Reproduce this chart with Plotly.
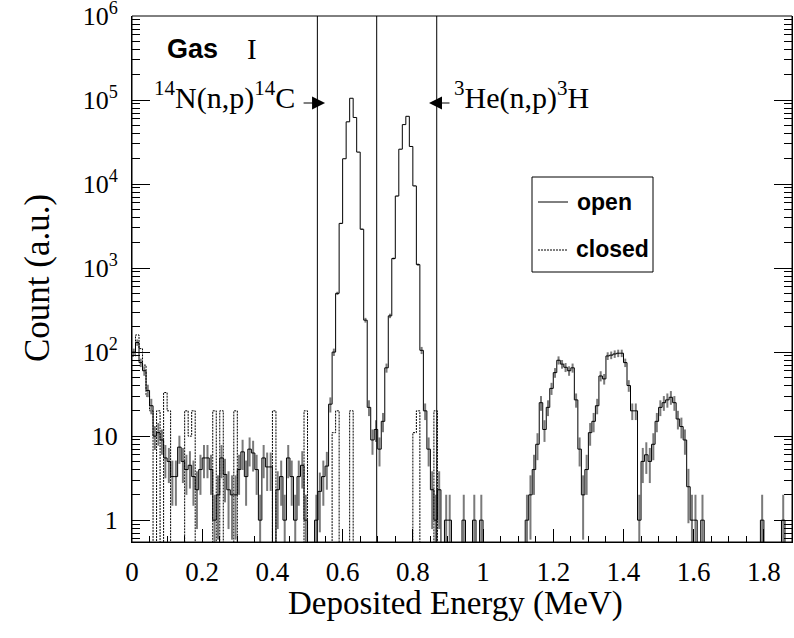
import math
import plotly.graph_objects as go

# ---------------- data ----------------
bin_width = 0.01
n_bins = 188
bin_edges = [round(i * bin_width, 2) for i in range(n_bins + 1)]

open_counts = [
    100, 130, 75, 60, 35, 23, 10, 11, 9, 5.5,
    5, 3.3, 3.3, 7.4, 5, 4, 4.5, 3.3, 2.3, 4,
    5.5, 5.5, 4, 1, 2, 5.5, 3.5, 2.3, 2, 2,
    4, 6.5, 3.3, 7, 6.3, 4, 1, 5.5, 4.3, 4.3,
    0, 2.3, 3.3, 1, 5.5, 3.3, 1, 3.3, 4.5, 1,
    0, 0, 1, 2.2, 3.3, 4.4, 24, 100, 500, 3400,
    20000, 55000, 105000, 62000, 24000, 2900, 240, 22, 9, 12,
    7, 15, 65, 270, 1300, 7200, 26000, 51000, 64000, 28000,
    9500, 1100, 105, 20, 7, 2.3, 1, 2.3, 0, 1,
    1, 0, 0, 0, 1, 0, 0, 1, 0, 1,
    0, 0, 0, 0, 0, 0, 0, 0, 0, 0,
    0, 0, 1, 2, 4, 8, 25, 12, 22, 37,
    57, 80, 72, 66, 60, 65, 27, 7, 2, 4,
    11, 15, 23, 52, 48, 90, 92, 95, 97, 97,
    75, 40, 20, 20, 1, 5, 6, 5, 8, 15,
    22, 25, 27, 29, 25, 16, 13, 9, 2.5, 1,
    1, 0, 1, 0, 0, 0, 0, 0, 0, 0,
    0, 0, 0, 0, 0, 0, 0, 0, 0, 1,
    0, 0, 0, 0, 0, 1, 0, 0,
]

closed_counts = [
    90, 160, 110, 70, 30, 20, 0, 20, 0, 33,
    20, 0, 0, 0, 0, 20, 10, 20, 0, 0,
    0, 0, 0, 20, 0, 20, 0, 0, 0, 20,
    0, 0, 0, 0, 0, 0, 0, 0, 0, 0,
    20, 0, 0, 0, 0, 0, 0, 0, 0, 20,
    0, 0, 0, 0, 0, 0, 0, 11, 20, 0,
    0, 0, 20, 0, 0, 0, 0, 0, 0, 0,
    0, 0, 0, 0, 0, 0, 0, 0, 0, 0,
    11, 20, 0, 0, 0, 0, 20, 0, 0, 0,
] + [0] * 98

x_tick_vals = [0, 0.2, 0.4, 0.6, 0.8, 1.0, 1.2, 1.4, 1.6, 1.8]
x_tick_text = ["0", "0.2", "0.4", "0.6", "0.8", "1", "1.2", "1.4", "1.6", "1.8"]
y_tick_vals = [1, 10, 100, 1e3, 1e4, 1e5, 1e6]
y_tick_text = ["1", "10", "10<sup>2</sup>", "10<sup>3</sup>", "10<sup>4</sup>",
               "10<sup>5</sup>", "10<sup>6</sup>"]
window_edges = [0.528, 0.697, 0.868]

FLOOR = 1e-3  # empty bins drop below the axis


def steps(vals):
    ys = [v if v > 0 else FLOOR for v in vals]
    return bin_edges, ys + [ys[-1]]


fig = go.Figure()

# closed (dotted)
cx, cy = steps(closed_counts)
fig.add_trace(go.Scatter(x=cx, y=cy, mode="lines", line_shape="hv",
                         line=dict(color="black", width=1, dash="2px,1px"),
                         hoverinfo="skip"))

# open: grey error bars
centers = [bin_edges[i] + bin_width / 2 for i, v in enumerate(open_counts) if v > 0]
vals = [v for v in open_counts if v > 0]
errs = [math.sqrt(v) for v in vals]
errs_minus = [min(e, v * 0.9999) for e, v in zip(errs, vals)]
fig.add_trace(go.Scatter(x=centers, y=vals, mode="markers",
                         marker=dict(size=0.1, color="rgba(0,0,0,0)"),
                         error_y=dict(type="data", array=errs, arrayminus=errs_minus,
                                      color="#7a7a7a", thickness=2, width=0),
                         hoverinfo="skip"))

# open: black step line
ox, oy = steps(open_counts)
fig.add_trace(go.Scatter(x=ox, y=oy, mode="lines", line_shape="hv",
                         line=dict(color="black", width=1), hoverinfo="skip"))

# window lines
for xe in window_edges:
    fig.add_shape(type="line", xref="x", yref="paper", x0=xe, x1=xe, y0=0, y1=1,
                  line=dict(color="black", width=1))

# plot area target: x 132..792, y 16..542 (page px); page body margin removed
L, R, T, B = 132, 792, 16, 542


def px_x(px):
    return (px - L) / float(R - L)


def px_y(py):
    return (B - py) / float(B - T)


serif = "Liberation Serif, Times New Roman, serif"
sans = "Liberation Sans, Arial, sans-serif"

annotations = [
    dict(text="<b>Gas</b>", x=px_x(165), y=px_y(49), xref="paper", yref="paper",
         xanchor="left", yanchor="middle", showarrow=False,
         font=dict(family=sans, size=27, color="black")),
    dict(text="I", x=px_x(245), y=px_y(49), xref="paper", yref="paper",
         xanchor="left", yanchor="middle", showarrow=False,
         font=dict(family=serif, size=29, color="black")),
    dict(text="<sup>14</sup>N(n,p)<sup>14</sup>C", x=px_x(297), y=px_y(95),
         xref="paper", yref="paper", xanchor="right", yanchor="middle", showarrow=False,
         font=dict(family=serif, size=30, color="black")),
    dict(text="<sup>3</sup>He(n,p)<sup>3</sup>H", x=px_x(452), y=px_y(95),
         xref="paper", yref="paper", xanchor="left", yanchor="middle", showarrow=False,
         font=dict(family=serif, size=30, color="black")),
    # arrows
    dict(text="", x=0.55, y=px_y(103), xref="x", yref="paper", ax=-23, ay=0,
         showarrow=True, arrowhead=2, arrowsize=2.6, arrowwidth=1, arrowcolor="black"),
    dict(text="", x=0.846, y=px_y(103), xref="x", yref="paper", ax=22, ay=0,
         showarrow=True, arrowhead=2, arrowsize=2.6, arrowwidth=1, arrowcolor="black"),
    # legend texts
    dict(text="<b>open</b>", x=px_x(575), y=px_y(202), xref="paper", yref="paper",
         xanchor="left", yanchor="middle", showarrow=False,
         font=dict(family=sans, size=23, color="black")),
    dict(text="<b>closed</b>", x=px_x(574), y=px_y(249), xref="paper", yref="paper",
         xanchor="left", yanchor="middle", showarrow=False,
         font=dict(family=sans, size=23, color="black")),
    # axis titles
    dict(text="Deposited Energy (MeV)", x=px_x(455), y=px_y(603), xref="paper",
         yref="paper", xanchor="center", yanchor="middle", showarrow=False,
         font=dict(family=serif, size=33, color="black")),
    dict(text="Count (a.u.)", x=px_x(37), y=px_y(278), xref="paper", yref="paper",
         xanchor="center", yanchor="middle", showarrow=False, textangle=-90,
         font=dict(family=serif, size=35, color="black")),
]

shapes_extra = [
    # frame
    dict(type="rect", xref="paper", yref="paper", x0=0, x1=1, y0=0, y1=1,
         line=dict(color="black", width=1), fillcolor="rgba(0,0,0,0)", layer="above"),
    # legend box and samples
    dict(type="rect", xref="paper", yref="paper", x0=px_x(532), x1=px_x(653),
         y0=px_y(272), y1=px_y(177), line=dict(color="black", width=1),
         fillcolor="white", layer="above"),
    dict(type="line", xref="paper", yref="paper", x0=px_x(538), x1=px_x(568),
         y0=px_y(202), y1=px_y(202), line=dict(color="black", width=1)),
    dict(type="line", xref="paper", yref="paper", x0=px_x(538), x1=px_x(568),
         y0=px_y(250), y1=px_y(250), line=dict(color="black", width=1, dash="2px,1px")),
]
for s in shapes_extra:
    fig.add_shape(**s)

fig.update_layout(
    width=794, height=638,
    margin=dict(l=L, r=794 - R, t=T, b=638 - B, autoexpand=False),
    paper_bgcolor="white", plot_bgcolor="white",
    showlegend=False,
    annotations=annotations,
    xaxis=dict(range=[0, 1.88], tickmode="array", tickvals=x_tick_vals,
               ticktext=x_tick_text, ticks="inside", ticklen=13, tickwidth=1,
               tickcolor="black", showline=True, linecolor="black", linewidth=1,
               mirror=False, showgrid=False, zeroline=False, automargin=False,
               tickfont=dict(family=serif, size=27, color="black"),
               ticklabelstandoff=6, ticklabeloverflow="allow",
               minor=dict(ticks="inside", ticklen=6, dtick=0.05, tick0=0,
                          tickcolor="black", showgrid=False)),
    yaxis=dict(type="log", range=[-0.26, 6], tickmode="array", tickvals=y_tick_vals,
               ticktext=y_tick_text, ticks="inside", ticklen=18, tickwidth=1,
               tickcolor="black", showline=True, linecolor="black", linewidth=1,
               mirror="ticks", showgrid=False, zeroline=False, automargin=False,
               tickfont=dict(family=serif, size=26, color="black"),
               ticklabelstandoff=8, ticklabeloverflow="allow",
               minor=dict(ticks="inside", ticklen=8, tickcolor="black", showgrid=False,
                          tickmode="array",
                          tickvals=[k * 10 ** d for d in range(-1, 6) for k in range(2, 10)])),
)

fig.write_html("out.html",
               config={"displayModeBar": False, "staticPlot": True},
               post_script="document.body.style.margin='0';document.body.style.overflow='hidden';")
